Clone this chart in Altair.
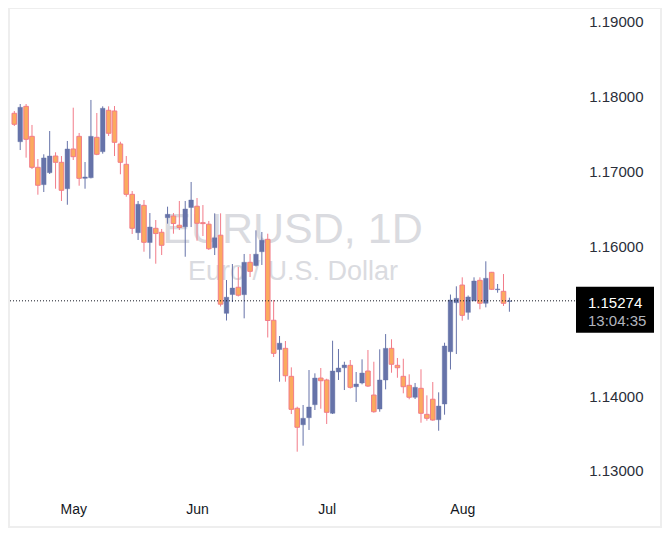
import altair as alt
import pandas as pd

# daily EURUSD candles, oldest first (the first one is cut by the left edge)
opens = [
    1.17780, 1.17400, 1.17873, 1.17472, 1.17058, 1.16826, 1.16986, 1.17209, 1.17125, 1.16772,
    1.17303, 1.17472, 1.16911, 1.16919, 1.17459, 1.17267, 1.17820, 1.17811, 1.17370, 1.17098,
    1.16697, 1.16184, 1.16550, 1.16053, 1.16243, 1.16190, 1.16385, 1.16407, 1.16284, 1.16264,
    1.16521, 1.16538, 1.16318, 1.16298, 1.15984, 1.16151, 1.15107, 1.15358, 1.15455, 1.15356,
    1.15789, 1.15746, 1.15930, 1.16096, 1.15014, 1.14623, 1.14639, 1.14265, 1.13838, 1.13618,
    1.13712, 1.13886, 1.14242, 1.14216, 1.13771, 1.14323, 1.14380, 1.14412, 1.14126, 1.14176,
    1.14336, 1.14015, 1.13828, 1.14216, 1.14639, 1.14412, 1.14265, 1.14145, 1.13985, 1.14105,
    1.13757, 1.13959, 1.13685, 1.13895, 1.14594, 1.15249, 1.15485, 1.15120, 1.15275, 1.15548,
    1.15241, 1.15655, 1.15422, 1.15401, 1.15265,
]
highs = [
    1.17811, 1.17904, 1.17904, 1.17624, 1.17169, 1.17232, 1.17543, 1.17259, 1.17209, 1.17410,
    1.17855, 1.17517, 1.17129, 1.17958, 1.17784, 1.17873, 1.17873, 1.17877, 1.17400, 1.17209,
    1.16741, 1.16608, 1.16621, 1.16447, 1.16354, 1.16234, 1.16532, 1.16447, 1.16608, 1.16608,
    1.16862, 1.16648, 1.16554, 1.16341, 1.16443, 1.16443, 1.15552, 1.15766, 1.15726, 1.15900,
    1.15900, 1.16216, 1.16194, 1.16171, 1.15285, 1.14804, 1.14737, 1.14385, 1.13859, 1.13882,
    1.14349, 1.14305, 1.14376, 1.14233, 1.14741, 1.14630, 1.14460, 1.14483, 1.14323, 1.14492,
    1.14617, 1.14460, 1.14626, 1.14830, 1.14760, 1.14510, 1.14500, 1.14292, 1.14176, 1.14359,
    1.14011, 1.14189, 1.14051, 1.14714, 1.15358, 1.15468, 1.15588, 1.15345, 1.15588, 1.15588,
    1.15802, 1.15660, 1.15499, 1.15632, 1.15316,
]
lows = [
    1.17610, 1.17289, 1.17187, 1.17035, 1.16692, 1.16728, 1.16969, 1.16772, 1.16608, 1.16558,
    1.17156, 1.16812, 1.16772, 1.16910, 1.17220, 1.17240, 1.17477, 1.17209, 1.16965, 1.16665,
    1.16167, 1.16087, 1.15930, 1.15837, 1.15770, 1.15886, 1.16305, 1.16171, 1.16220, 1.15863,
    1.16260, 1.16077, 1.16140, 1.15953, 1.15886, 1.15198, 1.15011, 1.15258, 1.15332, 1.15040,
    1.15592, 1.15733, 1.15753, 1.14784, 1.14523, 1.14193, 1.14193, 1.13761, 1.13258, 1.13338,
    1.13548, 1.13815, 1.13832, 1.13628, 1.13761, 1.14216, 1.14082, 1.14102, 1.13922, 1.14158,
    1.14122, 1.13779, 1.13792, 1.14091, 1.14313, 1.14246, 1.14038, 1.13958, 1.13962, 1.13645,
    1.13672, 1.13672, 1.13538, 1.13752, 1.14356, 1.14563, 1.15008, 1.15022, 1.15270, 1.15161,
    1.15187, 1.15418, 1.15382, 1.15205, 1.15128,
]
closes = [
    1.17633, 1.17860, 1.17432, 1.17058, 1.16818, 1.17183, 1.17209, 1.17125, 1.16751, 1.17303,
    1.17200, 1.16911, 1.16929, 1.17472, 1.17232, 1.17847, 1.17513, 1.17392, 1.17125, 1.16697,
    1.16243, 1.16564, 1.16056, 1.16260, 1.16173, 1.16016, 1.16430, 1.16307, 1.16254, 1.16501,
    1.16621, 1.16310, 1.16306, 1.15970, 1.16116, 1.15229, 1.15322, 1.15445, 1.15349, 1.15789,
    1.15668, 1.15897, 1.16084, 1.15011, 1.14572, 1.14708, 1.14273, 1.13824, 1.13584, 1.13704,
    1.13855, 1.14242, 1.14206, 1.13784, 1.14336, 1.14376, 1.14416, 1.14118, 1.14162, 1.14309,
    1.14135, 1.13792, 1.14216, 1.14639, 1.14426, 1.14380, 1.14126, 1.13985, 1.14118, 1.13771,
    1.13704, 1.13681, 1.13868, 1.14670, 1.15285, 1.15307, 1.15080, 1.15325, 1.15539, 1.15241,
    1.15575, 1.15428, 1.15432, 1.15241, 1.15274,
]

month_ticks = [11, 32, 54, 77]
month_labels = ["May", "Jun", "Jul", "Aug"]
# 1.15000 sits under the last-price tag, so it is not drawn
price_ticks = [1.13, 1.14, 1.16, 1.17, 1.18, 1.19]

last_price = 1.15274
countdown = "13:04:35"
symbol_title = "EURUSD, 1D"
symbol_desc = "Euro / U.S. Dollar"

UP = "#6673a9"
DOWN_FILL = "#fbaa5e"
DOWN_LINE = "#f27c89"
FONT = "Liberation Sans"

W, H = 565, 482
x_scale = alt.Scale(domain=[1.117, 95.283], nice=False, zero=False)
y_scale = alt.Scale(domain=[1.12746, 1.19187], nice=False, zero=False)

# one axis definition shared by every layer, so the merged axis stays intact
x_axis = alt.Axis(
    values=month_ticks,
    labelExpr=f"{month_labels}[indexof({month_ticks}, datum.value)]",
    title=None,
    grid=False,
    domain=False,
    ticks=False,
    tickSize=0,
    labelPadding=12,
    labelFont=FONT,
    labelFontSize=14,
    labelColor="#131722",
    labelFlush=False,
)
y_axis = alt.Axis(
    orient="right",
    values=price_ticks,
    format=".5f",
    title=None,
    grid=False,
    domain=False,
    ticks=False,
    tickSize=0,
    labelAlign="right",
    labelBaseline="middle",
    labelPadding=68,
    labelFont=FONT,
    labelFontSize=15,
    labelColor="#2a2e39",
    labelFlush=False,
    labelOverlap=False,
)


def candles_frame() -> pd.DataFrame:
    df = pd.DataFrame(
        {"bar": range(1, len(opens) + 1), "open": opens, "high": highs, "low": lows, "close": closes}
    )
    df["dir"] = ["up" if c >= o else "down" for o, c in zip(opens, closes)]
    return df


def dir_scale(up, down):
    return alt.Scale(domain=["up", "down"], range=[up, down])


def wicks(df):
    return (
        alt.Chart(df)
        .mark_rule(strokeWidth=1, clip=True)
        .encode(
            x=alt.X("bar:Q", scale=x_scale, axis=x_axis),
            y=alt.Y("low:Q", scale=y_scale, axis=y_axis),
            y2="high:Q",
            color=alt.Color("dir:N", scale=dir_scale(UP, DOWN_LINE), legend=None),
        )
    )


def bodies(df):
    return (
        alt.Chart(df)
        .mark_bar(size=4.6, clip=True)
        .encode(
            x=alt.X("bar:Q", scale=x_scale, axis=x_axis),
            y=alt.Y("open:Q", scale=y_scale, axis=y_axis),
            y2="close:Q",
            fill=alt.Fill("dir:N", scale=dir_scale(UP, DOWN_FILL), legend=None),
            stroke=alt.Stroke("dir:N", scale=dir_scale(UP, DOWN_LINE), legend=None),
            strokeWidth=alt.StrokeWidth("dir:N", scale=dir_scale(0.4, 1), legend=None),
        )
    )


def watermark():
    wm = pd.DataFrame({"t": [symbol_title, symbol_desc]})
    big = (
        alt.Chart(wm.iloc[[0]])
        .mark_text(font=FONT, fontSize=43, color="#dadbe0", align="center", baseline="middle")
        .encode(text="t:N", x=alt.value(282.5), y=alt.value(222))
    )
    small = (
        alt.Chart(wm.iloc[[1]])
        .mark_text(font=FONT, fontSize=27, color="#dadbe0", align="center", baseline="middle")
        .encode(text="t:N", x=alt.value(283), y=alt.value(264))
    )
    return big + small


def last_price_marks():
    lp = pd.DataFrame({"price": [last_price], "label": [f"{last_price:.5f}"], "timer": [countdown]})
    y_enc = alt.Y("price:Q", scale=y_scale, axis=y_axis)
    line = (
        alt.Chart(lp)
        .mark_rule(color="#131722", strokeWidth=1, strokeDash=[1, 2])
        .encode(y=y_enc, x=alt.value(0), x2=alt.value(566))
    )
    box = (
        alt.Chart(lp)
        .mark_rect(color="#000000", yOffset=-14, y2Offset=32)
        .encode(y=y_enc, y2="price:Q", x=alt.value(566), x2=alt.value(644))
    )
    price_txt = (
        alt.Chart(lp)
        .mark_text(font=FONT, fontSize=15, color="#ffffff", align="left", baseline="middle", dy=2)
        .encode(text="label:N", y=y_enc, x=alt.value(578))
    )
    timer_txt = (
        alt.Chart(lp)
        .mark_text(font=FONT, fontSize=15, color="#b2b5be", align="left", baseline="middle", dy=20.5)
        .encode(text="timer:N", y=y_enc, x=alt.value(578))
    )
    return line + box + price_txt + timer_txt


def frame():
    return (
        alt.Chart(pd.DataFrame({"a": [0]}))
        .mark_rect(fillOpacity=0, stroke="#eeeeee", strokeWidth=2)
        .encode(x=alt.value(-1), x2=alt.value(651), y=alt.value(0), y2=alt.value(519))
    )


df = candles_frame()
chart = (
    alt.layer(frame(), watermark(), wicks(df), bodies(df), last_price_marks())
    .properties(
        width=W,
        height=H,
        autosize=alt.AutoSizeParams(type="none"),
        padding={"left": 2, "top": 0, "right": 87, "bottom": 40},
        background="#ffffff",
    )
    .configure_view(strokeWidth=0)
)

chart.save("out.html", embed_options={"renderer": "svg", "actions": False})
